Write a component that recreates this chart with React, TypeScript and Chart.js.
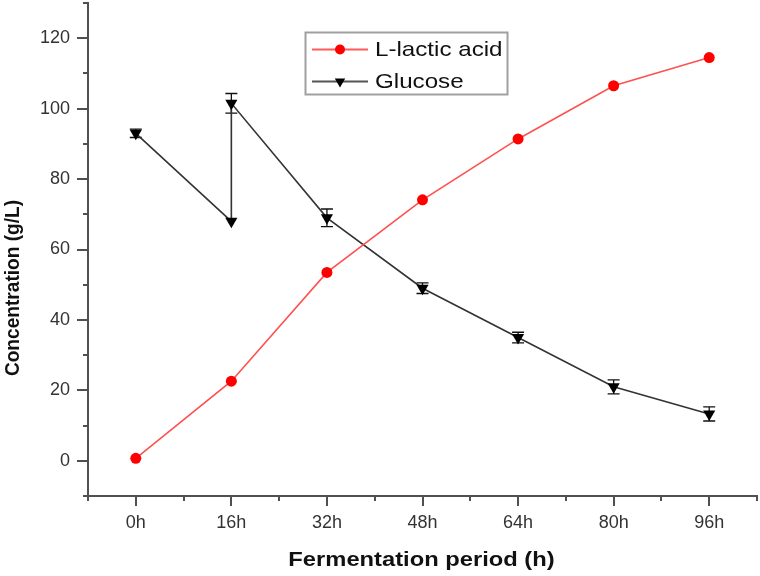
import React, { useEffect, useRef } from "react";
import { Chart, registerables } from "chart.js";

Chart.register(...registerables);

// ---- data ----
const lacticHours = [0, 16, 32, 48, 64, 80, 96];
const lacticAcid = [0.7, 22.6, 53.5, 74.1, 91.4, 106.5, 114.5];
const glucoseHours = [0, 16, 16, 32, 48, 64, 80, 96];
const glucose = [93, 68, 101.5, 69, 49, 35, 21, 13.3];
const glucoseErr = [1.2, 0, 2.8, 2.5, 1.5, 1.5, 2, 2];
const xLabelValues = [0, 16, 32, 48, 64, 80, 96];
const yLabelValues = [0, 20, 40, 60, 80, 100, 120];
const seriesNames = ["L-lactic acid", "Glucose"];
const xTitle = "Fermentation period (h)";
const yTitle = "Concentration (g/L)";

const AXIS = "#505050";
const FONT = "'Liberation Sans', Arial, sans-serif";

const decorPlugin = {
  id: "decor",
  beforeDatasetsDraw(chart: any) {
    const ctx = chart.ctx;
    const xs = chart.scales.x;
    const ys = chart.scales.y;
    ctx.save();
    ctx.strokeStyle = "#111";
    ctx.lineWidth = 1.3;
    glucoseHours.forEach((h, i) => {
      const e = glucoseErr[i];
      if (!e) return;
      const px = xs.getPixelForValue(h);
      const y1 = ys.getPixelForValue(glucose[i] - e);
      const y2 = ys.getPixelForValue(glucose[i] + e);
      ctx.beginPath();
      ctx.moveTo(px, y1);
      ctx.lineTo(px, y2);
      ctx.moveTo(px - 6, y1);
      ctx.lineTo(px + 6, y1);
      ctx.moveTo(px - 6, y2);
      ctx.lineTo(px + 6, y2);
      ctx.stroke();
    });
    ctx.restore();
  },
  afterDraw(chart: any) {
    const ctx = chart.ctx;
    const xs = chart.scales.x;
    const ys = chart.scales.y;
    const area = chart.chartArea;
    ctx.save();
    // tick marks
    ctx.strokeStyle = AXIS;
    ctx.lineWidth = 2;
    ctx.beginPath();
    for (let v = xs.min; v <= xs.max + 0.001; v += 8) {
      const px = Math.round(xs.getPixelForValue(v));
      const major = xLabelValues.includes(v);
      ctx.moveTo(px, area.bottom);
      ctx.lineTo(px, area.bottom + (major ? 10 : 5));
    }
    for (let v = ys.min; v <= ys.max + 0.001; v += 10) {
      const py = Math.round(ys.getPixelForValue(v));
      const major = yLabelValues.includes(v);
      ctx.moveTo(area.left, py);
      ctx.lineTo(area.left - (major ? 11 : 5), py);
    }
    ctx.stroke();

    // axis titles
    ctx.fillStyle = "#111";
    ctx.font = `bold 21px ${FONT}`;
    ctx.textAlign = "center";
    ctx.textBaseline = "alphabetic";
    ctx.save();
    ctx.translate(421.5, 566);
    ctx.scale(1.13, 1);
    ctx.fillText(xTitle, 0, 0);
    ctx.restore();
    ctx.save();
    ctx.translate(18.5, 288);
    ctx.rotate(-Math.PI / 2);
    ctx.scale(0.91, 1);
    ctx.fillText(yTitle, 0, 0);
    ctx.restore();

    // legend
    ctx.strokeStyle = "#a0a0a0";
    ctx.lineWidth = 2;
    ctx.strokeRect(305.5, 32.5, 202, 62);
    // row 1
    ctx.strokeStyle = "#ff5a5a";
    ctx.lineWidth = 1.8;
    ctx.beginPath();
    ctx.moveTo(312, 49.5);
    ctx.lineTo(368, 49.5);
    ctx.stroke();
    ctx.fillStyle = "#ff0000";
    ctx.beginPath();
    ctx.arc(340, 49.5, 5, 0, Math.PI * 2);
    ctx.fill();
    // row 2
    ctx.strokeStyle = "#555";
    ctx.beginPath();
    ctx.moveTo(312, 81.5);
    ctx.lineTo(368, 81.5);
    ctx.stroke();
    ctx.fillStyle = "#000";
    const r = 6;
    ctx.beginPath();
    ctx.moveTo(340, 81.5 + r);
    ctx.lineTo(340 - r * 0.866, 81.5 - r / 2);
    ctx.lineTo(340 + r * 0.866, 81.5 - r / 2);
    ctx.closePath();
    ctx.fill();
    ctx.fillStyle = "#111";
    ctx.font = `21px ${FONT}`;
    ctx.textAlign = "left";
    ctx.save();
    ctx.translate(375, 56);
    ctx.scale(1.15, 1);
    ctx.fillText(seriesNames[0], 0, 0);
    ctx.restore();
    ctx.save();
    ctx.translate(375, 88);
    ctx.scale(1.15, 1);
    ctx.fillText(seriesNames[1], 0, 0);
    ctx.restore();
    ctx.restore();
  },
};

export default function App() {
  const ref = useRef<HTMLCanvasElement>(null);
  useEffect(() => {
    if (!ref.current) return;
    const chart = new Chart(ref.current, {
      type: "line",
      data: {
        datasets: [
          {
            label: seriesNames[0],
            data: lacticHours.map((h, i) => ({ x: h, y: lacticAcid[i] })),
            borderColor: "#ff5050",
            borderWidth: 1.6,
            pointStyle: "circle",
            pointRadius: 5.5,
            pointBackgroundColor: "#ff0000",
            pointBorderColor: "#ff0000",
            pointBorderWidth: 0,
            tension: 0,
            clip: false,
          },
          {
            label: seriesNames[1],
            data: glucoseHours.map((h, i) => ({ x: h, y: glucose[i] })),
            borderColor: "#333333",
            borderWidth: 1.6,
            pointStyle: "triangle",
            rotation: 180,
            pointRadius: 7,
            pointBackgroundColor: "#000",
            pointBorderColor: "#000",
            pointBorderWidth: 0,
            tension: 0,
            clip: false,
          },
        ],
      },
      plugins: [decorPlugin],
      options: {
        responsive: false,
        animation: false,
        layout: { autoPadding: false, padding: { top: 3, right: 3, left: 0, bottom: 0 } },
        plugins: { legend: { display: false }, tooltip: { enabled: false } },
        scales: {
          x: {
            type: "linear",
            min: -8,
            max: 104,
            afterFit: (s: any) => {
              s.height = 80;
              s.paddingLeft = 0;
              s.paddingRight = 0;
              s.paddingTop = 0;
              s.paddingBottom = 0;
            },
            grid: { display: false, drawTicks: false },
            border: { display: true, color: AXIS, width: 2 },
            ticks: {
              stepSize: 8,
              autoSkip: false,
              maxRotation: 0,
              padding: 16,
              color: "#333",
              font: { size: 18, family: FONT },
              callback: (v: any) => (xLabelValues.includes(v) ? `${v}h` : ""),
            },
          },
          y: {
            type: "linear",
            min: -10,
            max: 130,
            afterFit: (s: any) => {
              s.width = 88;
              s.paddingLeft = 0;
              s.paddingRight = 0;
              s.paddingTop = 0;
              s.paddingBottom = 0;
            },
            grid: { display: false, drawTicks: false },
            border: { display: true, color: AXIS, width: 2 },
            ticks: {
              stepSize: 10,
              autoSkip: false,
              padding: 18,
              color: "#333",
              font: { size: 18, family: FONT },
              callback: (v: any) => (yLabelValues.includes(v) ? `${v}` : ""),
            },
          },
        },
      },
    } as any);
    return () => chart.destroy();
  }, []);
  return (
    <div style={{ position: "fixed", left: 0, top: 0, width: 760, height: 576, background: "#fff" }}>
      <canvas ref={ref} width={760} height={576} style={{ display: "block" }} />
    </div>
  );
}
